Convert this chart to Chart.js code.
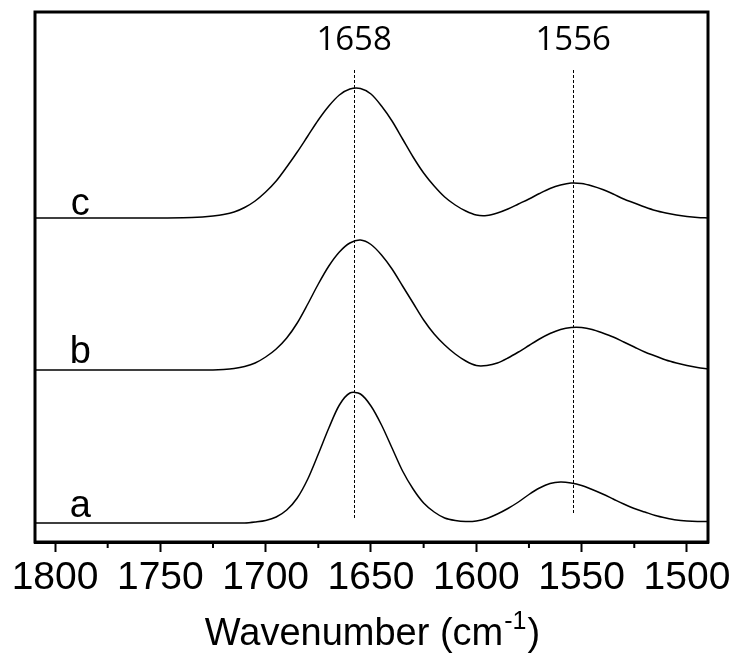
<!DOCTYPE html>
<html>
<head>
<meta charset="utf-8">
<title>FTIR amide bands</title>
<script src="https://cdn.jsdelivr.net/npm/chart.js@4.4.7/dist/chart.umd.min.js"></script>
<style>
    html, body { margin: 0; padding: 0; background: #fff; }
</style>
</head>
<body>
<canvas id="ftir_chart" width="737" height="654"></canvas>
<script>

// Wavenumbers (cm-1) shared by the three spectra.
var wavenumbers = [1810, 1780, 1750, 1735, 1730,
                   1725, 1720, 1715, 1710, 1705, 1700, 1695, 1690, 1685, 1680,
                   1675, 1670, 1665, 1660, 1655, 1650, 1645, 1640, 1635, 1630,
                   1625, 1620, 1615, 1610, 1605, 1600, 1595, 1590, 1585, 1580,
                   1575, 1570, 1565, 1560, 1555, 1550, 1545, 1540, 1535, 1530,
                   1525, 1520, 1515, 1510, 1505, 1500, 1495, 1490];

// Intensities (arbitrary units, already offset for stacking).
var spectrumA = [0.19, 0.19, 0.19, 0.19, 0.19,
                 0.19, 0.19, 0.19, 0.19, 0.20, 0.215, 0.25, 0.32, 0.44, 0.63,
                 0.88, 1.14, 1.37, 1.49, 1.48, 1.36, 1.17, 0.94, 0.71, 0.53,
                 0.39, 0.30, 0.24, 0.215, 0.205, 0.21, 0.235, 0.28, 0.335, 0.40,
                 0.475, 0.54, 0.585, 0.60, 0.59, 0.565, 0.525, 0.48, 0.43, 0.38,
                 0.335, 0.30, 0.265, 0.24, 0.22, 0.21, 0.205, 0.205];
var spectrumB = [1.72, 1.72, 1.72, 1.72, 1.72,
                 1.72, 1.725, 1.735, 1.755, 1.79, 1.85, 1.93, 2.04, 2.19, 2.38,
                 2.58, 2.76, 2.90, 2.99, 3.02, 2.975, 2.87, 2.73, 2.56, 2.39,
                 2.22, 2.08, 1.97, 1.88, 1.81, 1.765, 1.765, 1.79, 1.84, 1.90,
                 1.965, 2.03, 2.085, 2.125, 2.145, 2.145, 2.125, 2.09, 2.05, 2.00,
                 1.95, 1.90, 1.86, 1.82, 1.79, 1.765, 1.745, 1.73];
var spectrumC = [3.24, 3.24, 3.24, 3.245, 3.25,
                 3.26, 3.275, 3.30, 3.345, 3.41, 3.50, 3.61, 3.75, 3.90, 4.06,
                 4.22, 4.36, 4.47, 4.53, 4.535, 4.48, 4.36, 4.21, 4.03, 3.85,
                 3.69, 3.56, 3.45, 3.37, 3.31, 3.27, 3.265, 3.29, 3.33, 3.38,
                 3.43, 3.485, 3.535, 3.57, 3.59, 3.585, 3.56, 3.525, 3.48, 3.43,
                 3.39, 3.35, 3.315, 3.29, 3.27, 3.255, 3.245, 3.24];

var seriesNames = ['a', 'b', 'c'];
var labelAt = [[1788, 0.25], [1788, 1.79], [1788, 3.27]];   // [wavenumber, intensity] of the letters

// Axis ticks.
var majorTicks = [1800, 1750, 1700, 1650, 1600, 1550, 1500];
var minorTicks = [1775, 1725, 1675, 1625, 1575, 1525];

// Band markers.
var markerPos  = [1658, 1554];
var markerText = ['1658', '1556'];
var markerSpan = [[0.24, 4.72], [0.27, 4.72]];

var xMin = 1490, xMax = 1809.5;
var yMin = 0, yMax = 5.30;

function toPoints(ys) {
    return wavenumbers.map(function (w, i) { return { x: w, y: ys[i] }; });
}

// Frame, minor ticks, marker lines and all free text.
var decorations = {
    id: 'decorations',
    afterDraw: function (chart) {
        var ctx = chart.ctx;
        var area = chart.chartArea;
        var xs = chart.scales.x;
        var ys = chart.scales.y;

        ctx.save();

        // Dashed band markers with their labels.
        ctx.strokeStyle = '#000';
        ctx.lineWidth = 1;
        ctx.setLineDash([3, 2]);
        markerPos.forEach(function (w, i) {
            var px = Math.round(xs.getPixelForValue(w)) + 0.5;
            ctx.beginPath();
            ctx.moveTo(px, ys.getPixelForValue(markerSpan[i][1]));
            ctx.lineTo(px, ys.getPixelForValue(markerSpan[i][0]));
            ctx.stroke();
        });
        ctx.setLineDash([]);

        ctx.fillStyle = '#000';
        ctx.textAlign = 'center';
        ctx.textBaseline = 'alphabetic';
        ctx.font = '33px "Open Sans", sans-serif';
        markerPos.forEach(function (w, i) {
            ctx.fillText(markerText[i], xs.getPixelForValue(w), ys.getPixelForValue(4.92));
        });

        // Series letters.
        ctx.font = '38px "Liberation Sans", Arial, sans-serif';
        seriesNames.forEach(function (n, i) {
            ctx.fillText(n, xs.getPixelForValue(labelAt[i][0]), ys.getPixelForValue(labelAt[i][1]));
        });

        // Box round the plot.
        ctx.lineWidth = 3;
        ctx.strokeRect(area.left, area.top, area.right - area.left, area.bottom - area.top);

        // Minor ticks.
        ctx.lineWidth = 2;
        minorTicks.forEach(function (w) {
            var px = xs.getPixelForValue(w);
            ctx.beginPath();
            ctx.moveTo(px, area.bottom);
            ctx.lineTo(px, area.bottom + 6);
            ctx.stroke();
        });

        // Axis title with superscript.
        var big = '38px "Liberation Sans", Arial, sans-serif';
        var small = '25px "Liberation Sans", Arial, sans-serif';
        var t1 = 'Wavenumber (cm', t2 = '-1', t3 = ')';
        ctx.font = big;
        var w1 = ctx.measureText(t1).width, w3 = ctx.measureText(t3).width;
        ctx.font = small;
        var w2 = ctx.measureText(t2).width;
        var cx = (area.left + area.right) / 2;
        var x0 = cx - (w1 + w2 + w3) / 2;
        var base = 645;
        ctx.textAlign = 'left';
        ctx.font = big;
        ctx.fillText(t1, x0, base);
        ctx.font = small;
        ctx.fillText(t2, x0 + w1 + 1, base - 16);
        ctx.font = big;
        ctx.fillText(t3, x0 + w1 + w2 + 2, base);

        ctx.restore();
    }
};

var ctx = document.getElementById('ftir_chart');

var data = {
    datasets: [spectrumA, spectrumB, spectrumC].map(function (s, i) {
        return {
            label: seriesNames[i],
            data: toPoints(s),
            borderColor: '#000',
            borderWidth: 1.5,
            pointRadius: 0,
            tension: 0.3,
            fill: false
        };
    })
};

var options = {
    responsive: false,
    maintainAspectRatio: false,
    animation: false,
    layout: {
        padding: { left: 35, right: 29, top: 12, bottom: 0 }
    },
    scales: {
        x: {
            type: 'linear',
            reverse: true,
            min: xMin,
            max: xMax,
            afterBuildTicks: function (scale) {
                scale.ticks = majorTicks.map(function (v) { return { value: v }; });
            },
            afterFit: function (scale) {
                scale.height = 112;
                scale.paddingLeft = 0;
                scale.paddingRight = 0;
            },
            grid: {
                drawOnChartArea: false,
                drawTicks: true,
                tickLength: 10,
                tickWidth: 2,
                tickColor: '#000'
            },
            border: { display: true, color: '#000', width: 3 },
            ticks: {
                color: '#000',
                padding: 3,
                maxRotation: 0,
                autoSkip: false,
                font: { size: 39, family: '"Liberation Sans", Arial, sans-serif' },
                callback: function (value) { return String(value); }
            }
        },
        y: {
            display: false,
            min: yMin,
            max: yMax
        }
    },
    plugins: {
        legend: { display: false },
        tooltip: { enabled: false }
    }
};

var chart = new Chart(ctx, { type: 'line', data: data, options: options, plugins: [decorations] });

</script>
</body>
</html>
